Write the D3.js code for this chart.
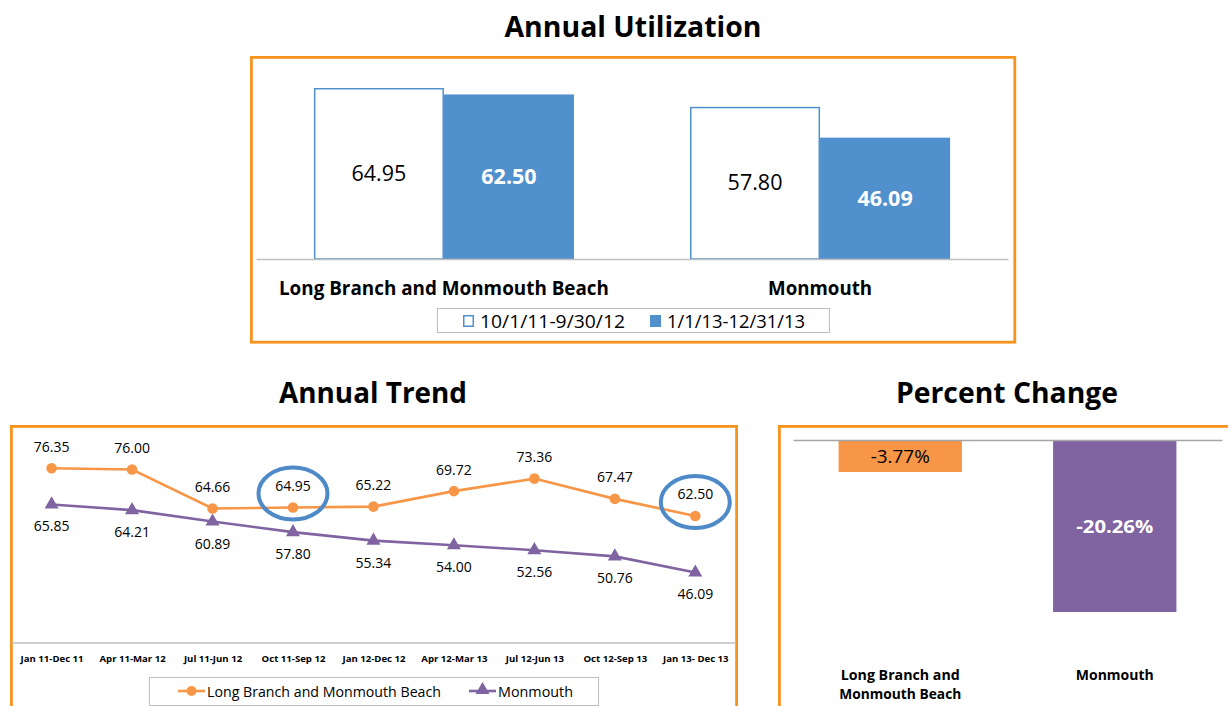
<!DOCTYPE html>
<html>
<head>
<meta charset="utf-8">
<script src="https://cdn.jsdelivr.net/npm/d3@7"></script>
<style>
  body { margin: 0; background: #fff; }
  svg { display: block; }
  text { font-family: "Open Sans", "DejaVu Sans", sans-serif; }
</style>
</head>
<body>
<svg id="chart" width="1228" height="706"></svg>
<script>
// ---- data ----
const utilCategories = ["Long Branch and Monmouth Beach", "Monmouth"];
const utilSeries = ["10/1/11-9/30/12", "1/1/13-12/31/13"];
const utilPrior = [64.95, 57.80];
const utilCurrent = [62.50, 46.09];

const trendPeriods = ["Jan 11-Dec 11", "Apr 11-Mar 12", "Jul 11-Jun 12", "Oct 11-Sep 12",
  "Jan 12-Dec 12", "Apr 12-Mar 13", "Jul 12-Jun 13", "Oct 12-Sep 13", "Jan 13- Dec 13"];
const trendLongBranch = [76.35, 76.00, 64.66, 64.95, 65.22, 69.72, 73.36, 67.47, 62.50];
const trendMonmouth = [65.85, 64.21, 60.89, 57.80, 55.34, 54.00, 52.56, 50.76, 46.09];
const trendSeries = ["Long Branch and Monmouth Beach", "Monmouth"];
const highlightedPeriods = ["Oct 11-Sep 12", "Jan 13- Dec 13"];

const changeCategories = ["Long Branch and Monmouth Beach", "Monmouth"];
const changeLabelLines = [["Long Branch and", "Monmouth Beach"], ["Monmouth"]];
const changeValues = [-3.77, -20.26];

// ---- styles ----
const ORANGE_FRAME = "#F7941E";
const BLUE = "#5090CD";
const ORANGE = "#F79646";
const PURPLE = "#8064A2";
const RING = "#4E8AC8";
const GRID = "#BFBFBF";

// plain hyphen for negative numbers
const fmt2 = d3.formatLocale({ decimal: ".", thousands: ",", grouping: [3], currency: ["$", ""], minus: "-" }).format(".2f");

const svg = d3.select("#chart");

function label(g, x, y, str, opts = {}) {
  const t = g.append("text")
    .attr("x", x).attr("y", y)
    .attr("text-anchor", opts.anchor || "middle")
    .attr("font-size", opts.size || 14)
    .attr("font-weight", opts.weight || "normal")
    .attr("fill", opts.fill || "#000")
    .text(str);
  if (opts.width) t.attr("textLength", opts.width).attr("lengthAdjust", "spacingAndGlyphs");
  return t;
}

// ===== Annual Utilization =====
label(svg, 633, 37, "Annual Utilization", { size: 29, weight: "bold", width: 257 });
svg.append("rect").attr("x", 251.4).attr("y", 57.4).attr("width", 763.4).attr("height", 284.8)
  .attr("fill", "none").attr("stroke", ORANGE_FRAME).attr("stroke-width", 2.8);

const utilRows = utilCategories.map((c, i) => ({ cat: c, values: [utilPrior[i], utilCurrent[i]] }));
const xUtil = d3.scaleBand().domain(utilCategories).range([256, 1008])
  .paddingInner(0.3085).paddingOuter(0.154);
const xUtilSeries = d3.scaleBand().domain(utilSeries).range([0, xUtil.bandwidth()]);
const yUtil = d3.scaleLinear().domain([0, 70]).range([259, 259 - 70 * 2.633]);

const utilG = svg.append("g");
const groups = utilG.selectAll("g.grp").data(utilRows).join("g")
  .attr("transform", d => `translate(${xUtil(d.cat)},0)`);
groups.selectAll("rect").data(d => d.values.map((v, i) => ({ v, s: utilSeries[i], i })))
  .join("rect")
  .attr("x", d => xUtilSeries(d.s) + (d.i === 0 ? 0.75 : 0))
  .attr("width", d => xUtilSeries.bandwidth() - (d.i === 0 ? 1.5 : 0))
  .attr("y", d => yUtil(d.v) + (d.i === 0 ? 0.75 : 0))
  .attr("height", d => yUtil(0) - yUtil(d.v) - (d.i === 0 ? 0.75 : 0))
  .attr("fill", d => d.i === 0 ? "#fff" : BLUE)
  .attr("stroke", d => d.i === 0 ? BLUE : "none")
  .attr("stroke-width", 1.5);
groups.selectAll("text").data(d => d.values.map((v, i) => ({ v, s: utilSeries[i], i })))
  .join("text")
  .attr("x", d => xUtilSeries(d.s) + xUtilSeries.bandwidth() / 2)
  .attr("y", d => (yUtil(d.v) + yUtil(0)) / 2 + 7.5)
  .attr("text-anchor", "middle")
  .attr("font-size", 21.5)
  .attr("font-weight", d => d.i === 0 ? "normal" : "bold")
  .attr("fill", d => d.i === 0 ? "#000" : "#fff")
  .text(d => fmt2(d.v));

// category axis
const axUtil = utilG.append("g").attr("transform", `translate(0,${yUtil(0)})`)
  .call(d3.axisBottom(xUtil).tickSize(0).tickPadding(0));
axUtil.select(".domain").attr("stroke", GRID).attr("stroke-width", 1.3);
axUtil.selectAll(".tick text").remove();
const utilCatWidths = [330, 104];
utilCategories.forEach((c, i) => {
  label(utilG, xUtil(c) + xUtil.bandwidth() / 2, 295, c, { size: 19, weight: "bold", width: utilCatWidths[i] });
});

// legend
const lg = svg.append("g");
lg.append("rect").attr("x", 437.5).attr("y", 308.5).attr("width", 392).attr("height", 24)
  .attr("fill", "#fff").attr("stroke", GRID).attr("stroke-width", 1);
const legX = [463, 650];
const legW = [145, 138];
utilSeries.forEach((s, i) => {
  lg.append("rect").attr("x", legX[i] + 0.75).attr("y", 315.75).attr("width", 9.5).attr("height", 10.5)
    .attr("fill", i === 0 ? "#fff" : BLUE).attr("stroke", BLUE).attr("stroke-width", 1.5);
  label(lg, legX[i] + 17, 328, s, { size: 18, anchor: "start", width: legW[i] });
});

// ===== Annual Trend =====
label(svg, 373, 403, "Annual Trend", { size: 29, weight: "bold", width: 188 });
svg.append("rect").attr("x", 11.4).attr("y", 426.4).attr("width", 725.2).attr("height", 300)
  .attr("fill", "none").attr("stroke", ORANGE_FRAME).attr("stroke-width", 2.8);

const xTrend = d3.scalePoint().domain(trendPeriods).range([51.6, 695.3]);
const yTrend = d3.scaleLinear().domain([25.6, 76.35]).range([643, 468.3]);

const trG = svg.append("g");
const axTrend = trG.append("g").attr("transform", `translate(0,${yTrend(25.6)})`)
  .call(d3.axisBottom(xTrend).tickSize(0).tickPadding(0));
axTrend.select(".domain").attr("d", "M12,0H736").attr("stroke", GRID).attr("stroke-width", 1.5);
axTrend.selectAll(".tick text")
  .attr("y", 19).attr("dy", null)
  .attr("font-family", "'Open Sans', sans-serif")
  .attr("font-size", 9.6).attr("font-weight", "bold").attr("fill", "#000");

const line = d3.line().x((d, i) => xTrend(trendPeriods[i])).y(d => yTrend(d));
trG.append("path").datum(trendMonmouth).attr("d", line)
  .attr("fill", "none").attr("stroke", PURPLE).attr("stroke-width", 2.6);
trG.append("path").datum(trendLongBranch).attr("d", line)
  .attr("fill", "none").attr("stroke", ORANGE).attr("stroke-width", 2.6);

const tri = d3.symbol().type(d3.symbolTriangle).size(85);
trG.selectAll("path.tri").data(trendMonmouth).join("path").attr("class", "tri")
  .attr("d", tri)
  .attr("transform", (d, i) => `translate(${xTrend(trendPeriods[i])},${yTrend(d)})`)
  .attr("fill", PURPLE);
trG.selectAll("circle.dot").data(trendLongBranch).join("circle").attr("class", "dot")
  .attr("cx", (d, i) => xTrend(trendPeriods[i])).attr("cy", d => yTrend(d))
  .attr("r", 5.3).attr("fill", ORANGE);

trendLongBranch.forEach((v, i) => {
  label(trG, xTrend(trendPeriods[i]), yTrend(v) - 16.5, fmt2(v), { size: 14 });
});
trendMonmouth.forEach((v, i) => {
  label(trG, xTrend(trendPeriods[i]), yTrend(v) + 27, fmt2(v), { size: 14 });
});

// highlight rings around selected periods
highlightedPeriods.forEach(p => {
  const i = trendPeriods.indexOf(p);
  trG.append("ellipse")
    .attr("cx", xTrend(p)).attr("cy", yTrend(trendLongBranch[i]) - 14)
    .attr("rx", 34.5).attr("ry", 26)
    .attr("fill", "none").attr("stroke", RING).attr("stroke-width", 4);
});

// legend
const tl = svg.append("g");
tl.append("rect").attr("x", 149.5).attr("y", 677.5).attr("width", 449).attr("height", 28)
  .attr("fill", "#fff").attr("stroke", GRID).attr("stroke-width", 1);
tl.append("line").attr("x1", 178).attr("x2", 205).attr("y1", 691).attr("y2", 691)
  .attr("stroke", ORANGE).attr("stroke-width", 2.6);
tl.append("circle").attr("cx", 191.5).attr("cy", 691).attr("r", 5).attr("fill", ORANGE);
label(tl, 207, 697, trendSeries[0], { size: 15, anchor: "start", width: 234 });
tl.append("line").attr("x1", 469).attr("x2", 496).attr("y1", 691).attr("y2", 691)
  .attr("stroke", PURPLE).attr("stroke-width", 2.6);
tl.append("path").attr("d", tri).attr("transform", "translate(482.5,690)").attr("fill", PURPLE);
label(tl, 498, 697, trendSeries[1], { size: 15, anchor: "start", width: 75 });

// ===== Percent Change =====
label(svg, 1007, 403, "Percent Change", { size: 29, weight: "bold", width: 222 });
svg.append("rect").attr("x", 779.4).attr("y", 426.4).attr("width", 500).attr("height", 300)
  .attr("fill", "none").attr("stroke", ORANGE_FRAME).attr("stroke-width", 2.8);

const xPct = d3.scaleBand().domain(changeCategories).range([793, 1222])
  .paddingInner(0.425).paddingOuter(0.2125);
const yPct = d3.scaleLinear().domain([-25, 0]).range([440 + 25 * 8.49, 440]);
const pctColors = [ORANGE, PURPLE];

const pg = svg.append("g");
pg.selectAll("rect.bar").data(changeValues).join("rect").attr("class", "bar")
  .attr("x", (d, i) => xPct(changeCategories[i]))
  .attr("width", xPct.bandwidth())
  .attr("y", yPct(0))
  .attr("height", d => yPct(d) - yPct(0))
  .attr("fill", (d, i) => pctColors[i]);
const axPct = pg.append("g").attr("transform", `translate(0,${yPct(0)})`)
  .call(d3.axisBottom(xPct).tickSize(0).tickPadding(0));
axPct.select(".domain").attr("stroke", "#A6A6A6").attr("stroke-width", 1.3);
axPct.selectAll(".tick text").remove();

changeValues.forEach((v, i) => {
  const cx = xPct(changeCategories[i]) + xPct.bandwidth() / 2;
  const cy = (yPct(0) + yPct(v)) / 2;
  label(pg, cx, cy + 6.5, fmt2(v) + "%",
    i === 0 ? { size: 18, width: 59 } : { size: 18, weight: "bold", fill: "#fff", width: 77 });
});
const pctLabelWidths = [[119, 122], [78]];
changeLabelLines.forEach((lines, i) => {
  const cx = xPct(changeCategories[i]) + xPct.bandwidth() / 2;
  lines.forEach((ln, j) => {
    label(pg, cx, 680 + j * 19, ln, { size: 14, weight: "bold", width: pctLabelWidths[i][j] });
  });
});
</script>
</body>
</html>
